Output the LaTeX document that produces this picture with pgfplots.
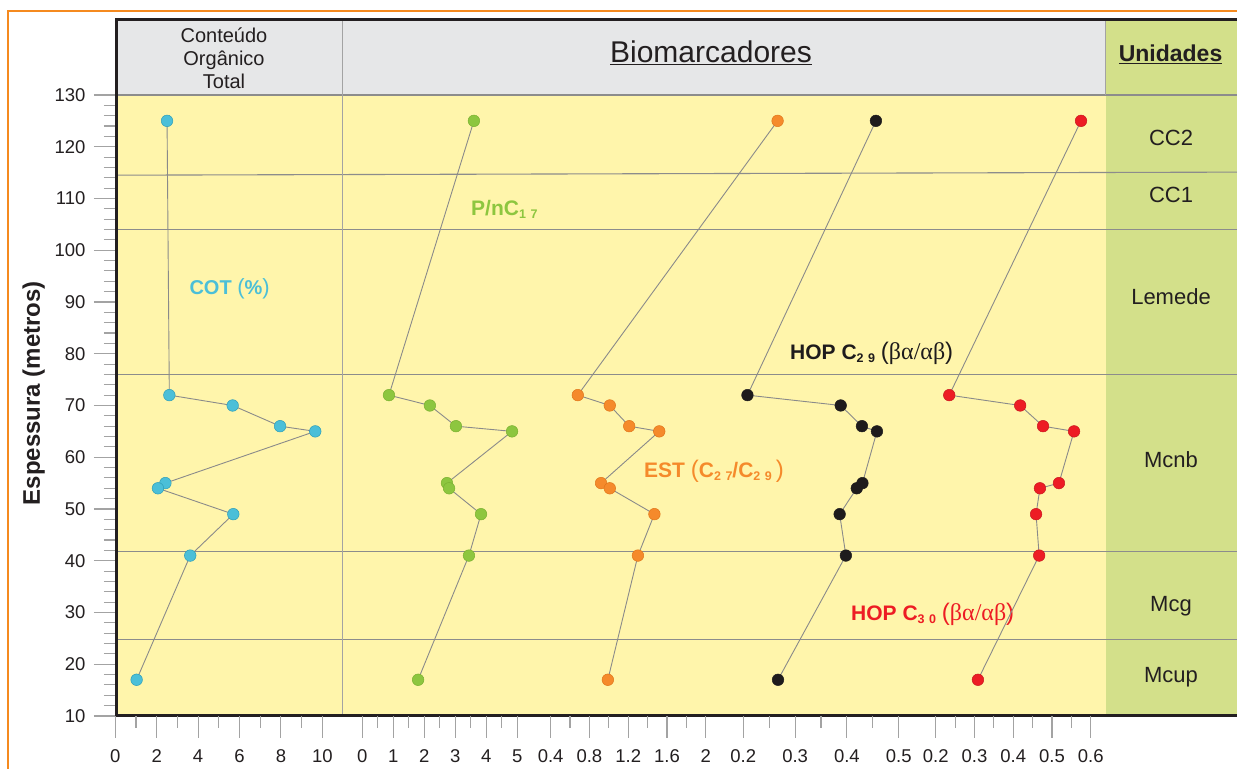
\documentclass[border=0pt]{standalone}
\usepackage{pgfplots}
\pgfplotsset{compat=1.18}
\usepackage{fontspec}
\setmainfont{Liberation Sans}
\newfontfamily\greekfont{Liberation Serif}

\definecolor{bgyellow}{HTML}{FFF5AB}
\definecolor{bggreen}{HTML}{D3E08A}
\definecolor{bggray}{HTML}{E6E7E8}
\definecolor{frame}{HTML}{231F20}
\definecolor{txt}{HTML}{231F20}
\definecolor{tickgray}{HTML}{A3A3A3}
\definecolor{sepgray}{HTML}{8C8C8C}
\definecolor{linkgray}{HTML}{8A8A8A}
\definecolor{orangeframe}{HTML}{F58A1F}
\definecolor{cotfill}{HTML}{4BBFD8}
\definecolor{cotdraw}{HTML}{2E9EB8}
\definecolor{pfill}{HTML}{8DC63F}
\definecolor{pdraw}{HTML}{7AB030}
\definecolor{estfill}{HTML}{F58A2B}
\definecolor{estdraw}{HTML}{E0761A}
\definecolor{hopblack}{HTML}{1E1B1C}
\definecolor{hopred}{HTML}{ED1C24}

\newcommand{\fs}[1]{\fontsize{#1bp}{#1bp}\selectfont}
\newcommand{\sub}[2]{\raisebox{-3bp}{\fs{12.5}#1\hspace{4.5bp}#2}}
\newcommand{\ratio}{{\fs{24}\mdseries(}{\greekfont\fs{24}\mdseries βα/αβ}{\fs{24}\mdseries)}}

% depth data: value, depth (m)
\pgfplotstableread{
v d
2.50 125
2.61 72
5.67 70
7.96 66
9.66 65
2.42 55
2.06 54
5.70 49
3.62 41
1.03 17
}\cot
\pgfplotstableread{
v d
3.60 125
0.86 72
2.18 70
3.02 66
4.83 65
2.73 55
2.80 54
3.83 49
3.44 41
1.80 17
}\pnc
\pgfplotstableread{
v d
2.74 125
0.68 72
1.01 70
1.21 66
1.52 65
0.92 55
1.01 54
1.47 49
1.30 41
0.99 17
}\est
\pgfplotstableread{
v d
0.456 125
0.208 72
0.388 70
0.429 66
0.458 65
0.430 55
0.419 54
0.386 49
0.398 41
0.267 17
}\hopA
\pgfplotstableread{
v d
0.575 125
0.235 72
0.418 70
0.477 66
0.557 65
0.518 55
0.469 54
0.459 49
0.467 41
0.309 17
}\hopB

\pgfplotsset{
  series axis/.style={
    scale only axis, width=1150bp, height=696bp,
    at={(100bp,53bp)}, anchor=south west,
    ymin=10, ymax=144.49,
    hide y axis,
    axis x line*=bottom,
    x axis line style={draw=none},
    tick align=outside,
    major tick length=22bp, minor tick length=12bp,
    tick style={draw=tickgray, line width=1.1bp},
    xticklabel style={font=\fs{18.5}, text=txt, yshift=-8bp},
    /pgf/number format/assume math mode=true,
    clip=false,
  },
  depth line/.style={draw=linkgray, line width=0.9bp, mark=*, mark size=5.8bp},
}

\begin{document}
\begin{tikzpicture}[x=1bp,y=1bp]
\useasboundingbox (0,0) rectangle (1237,769);
\fill[white] (0,0) rectangle (1237,769);
\begin{scope}
\clip (0,0) rectangle (1237,769);

% frame, backgrounds, units and depth scale
\begin{axis}[
  scale only axis, width=1134bp, height=696bp,
  at={(116bp,53bp)}, anchor=south west,
  xmin=116, xmax=1250, ymin=10, ymax=144.49,
  axis on top,
  axis line style={draw=frame, line width=3bp},
  xtick=\empty,
  ytick={10,20,...,130}, minor y tick num=4, ytick pos=left,
  tick align=outside,
  major tick length=22bp, minor tick length=12bp,
  tick style={draw=tickgray, line width=1.1bp},
  yticklabel style={font=\fs{18.5}, text=txt, xshift=-5bp},
  /pgf/number format/assume math mode=true,
  ylabel={\bfseries Espessura (metros)},
  ylabel style={font=\fs{24}, text=txt, at={(axis description cs:-0.0725,0.464)}, anchor=center},
]
\fill[bgyellow] (axis cs:116,10) rectangle (axis cs:1105.7,130);
\fill[bggray] (axis cs:116,130) rectangle (axis cs:1105.7,144.49);
\fill[bggreen] (axis cs:1105.7,10) rectangle (axis cs:1250,144.49);

\draw[sepgray, line width=1.1bp] (axis cs:116,130) -- (axis cs:1250,130);
\draw[sepgray, line width=1.1bp] (axis cs:116,114.5) -- (axis cs:1250,115.1);
\draw[sepgray, line width=1.1bp] (axis cs:116,104) -- (axis cs:1250,104);
\draw[sepgray, line width=1.1bp] (axis cs:116,76) -- (axis cs:1250,76);
\draw[sepgray, line width=1.1bp] (axis cs:116,41.7) -- (axis cs:1250,41.7);
\draw[sepgray, line width=1.1bp] (axis cs:116,24.8) -- (axis cs:1250,24.8);
\draw[sepgray!80, line width=1bp] (axis cs:342,10) -- (axis cs:342,144.49);
\draw[sepgray!80, line width=1bp] (axis cs:1105.7,130) -- (axis cs:1105.7,144.49);

% column headers
\node[anchor=base, text=txt, font=\fs{20}] at (axis cs:224,140.1) {Conteúdo};
\node[anchor=base, text=txt, font=\fs{20}] at (axis cs:224,135.7) {Orgânico};
\node[anchor=base, text=txt, font=\fs{20}] at (axis cs:224,131.3) {Total};
\node[anchor=base, text=txt, font=\fs{30}] at (axis cs:711,136.24) {\underline{Biomarcadores}};
\node[anchor=base, text=txt, font=\fs{23}\bfseries] at (axis cs:1170.5,136.4) {\underline{Unidades}};

% lithostratigraphic units
\node[anchor=base, text=txt, font=\fs{22}] at (axis cs:1171,120.2) {CC2};
\node[anchor=base, text=txt, font=\fs{22}] at (axis cs:1171,109.2) {CC1};
\node[anchor=base, text=txt, font=\fs{22}] at (axis cs:1171,89.5) {Lemede};
\node[anchor=base, text=txt, font=\fs{22}] at (axis cs:1171,58.0) {Mcnb};
\node[anchor=base, text=txt, font=\fs{22}] at (axis cs:1171,30.2) {Mcg};
\node[anchor=base, text=txt, font=\fs{22}] at (axis cs:1171,16.5) {Mcup};

% series names
\node[anchor=base west, text=cotfill, font=\fs{20}\bfseries] at (axis cs:186,91.45) {COT {\fs{22}\mdseries(}\%{\fs{22}\mdseries)}};
\node[anchor=base west, text=pfill, font=\fs{21}\bfseries] at (axis cs:467.7,106.7) {P/nC\sub{1}{7}};
\node[anchor=base west, text=estfill, font=\fs{21}\bfseries] at (axis cs:640.7,56.1) {EST {\fs{24}\mdseries(}C\sub{2}{7}/C\sub{2}{9}{\fs{24}\mdseries\,)}};
\node[anchor=base west, text=hopblack, font=\fs{21}\bfseries] at (axis cs:786.7,78.9) {HOP C\sub{2}{9} \ratio};
\node[anchor=base west, text=hopred, font=\fs{21}\bfseries] at (axis cs:847.7,28.45) {HOP C\sub{3}{0} \ratio};
\end{axis}

% COT (%)
\begin{axis}[series axis, xmin=-0.73913, xmax=54.8164,
  xtick={0,2,...,10}, minor xtick={1,3,5,7,9}]
\addplot[depth line, mark options={fill=cotfill, draw=cotdraw, line width=0.5bp}] table[x=v, y=d] {\cot};
\end{axis}

% P/nC17
\begin{axis}[series axis, xmin=-8.46129, xmax=28.6355,
  xtick={0,1,2,3,4,5}, minor xtick={0.5,1.5,2.5,3.5,4.5}]
\addplot[depth line, mark options={fill=pfill, draw=pdraw, line width=0.5bp}] table[x=v, y=d] {\pnc};
\end{axis}

% EST (C27/C29)
\begin{axis}[series axis, xmin=-4.24536, xmax=7.61031,
  xtick={0.4,0.8,1.2,1.6,2}, minor xtick={0.6,1.0,1.4,1.8}]
\addplot[depth line, mark options={fill=estfill, draw=estdraw, line width=0.5bp}] table[x=v, y=d] {\est};
\end{axis}

% HOP C29
\begin{axis}[series axis, xmin=-1.04189, xmax=1.17819,
  xtick={0.2,0.3,0.4,0.5}, minor xtick={0.25,0.35,0.45}]
\addplot[depth line, mark options={fill=hopblack, draw=hopblack, line width=0.5bp}] table[x=v, y=d] {\hopA};
\end{axis}

% HOP C30
\begin{axis}[series axis, xmin=-1.95665, xmax=1.01110,
  xtick={0.2,0.3,0.4,0.5,0.6}, minor xtick={0.25,0.35,0.45,0.55}]
\addplot[depth line, mark options={fill=hopred, draw=hopred!85!black, line width=0.5bp}] table[x=v, y=d] {\hopB};
\end{axis}
\end{scope}

% outer border
\draw[orangeframe, line width=2.2bp] (7.7,-5) -- (7.7,758) -- (1245,758);
\end{tikzpicture}
\end{document}
